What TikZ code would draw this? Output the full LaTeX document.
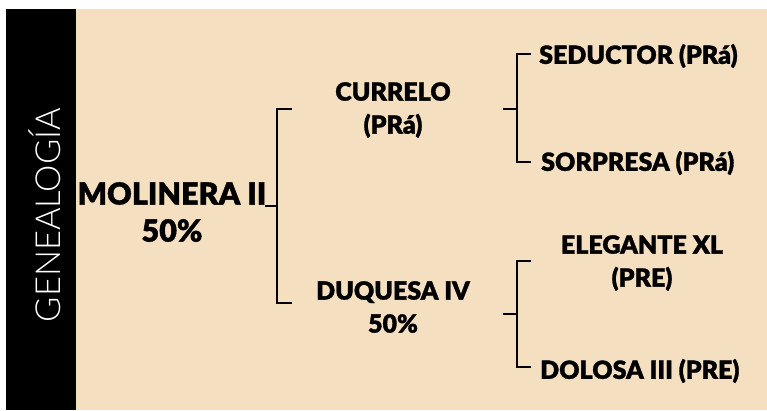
\documentclass[tikz,border=0pt]{standalone}
\usepackage{fontspec}
\newfontfamily\heavy{Lato Black}[FakeBold=1.2]
\newfontfamily\light{Lato Light}
\definecolor{beige}{RGB}{245,223,193}
\tikzset{
  bigtxt/.style={font=\heavy\fontsize{30.5}{37}\selectfont, align=center, inner sep=0pt},
  lbltxt/.style={font=\heavy\fontsize{25}{33}\selectfont, align=center, inner sep=0pt},
  brk/.style={line width=2.8pt, line cap=butt, line join=miter},
}
\begin{document}
\begin{tikzpicture}[x=1pt,y=-1pt]
\useasboundingbox (0,0) rectangle (767,410);
\fill[white] (0,0) rectangle (767,410);
\fill[beige] (6,9) rectangle (767,410);
\fill[black] (6,9) rectangle (76,410);
\node[rotate=90, text=white, font=\light\fontsize{34.5}{34}\selectfont, inner sep=0pt] (title) at (45,215) {GENEALOGÍA};

\node[bigtxt] (mol) at (172,212) {MOLINERA II\\50\%};
\node[lbltxt] (cur) at (393,110) {CURRELO\\(PRá)};
\node[lbltxt] (duq) at (393,307) {DUQUESA IV\\50\%};
\node[lbltxt, anchor=west] (sed) at (539,56) {SEDUCTOR (PRá)};
\node[lbltxt, anchor=west] (sor) at (541,163) {SORPRESA (PRá)};
\node[lbltxt] (ele) at (642,263) {ELEGANTE XL\\(PRE)};
\node[lbltxt, anchor=west] (dol) at (540,371) {DOLOSA III (PRE)};

% main bracket
\coordinate (m0) at (265,206);
\coordinate (m1) at (277,206);
\coordinate (mt) at (277,109);
\coordinate (mb) at (277,303);
\coordinate (mtt) at (292,109);
\coordinate (mbb) at (292,303);
\draw[brk] (m0) -- (m1);
\draw[brk] (mtt) -- (mt) -- (mb) -- (mbb);

% upper bracket
\coordinate (u0) at (503,109);
\coordinate (u1) at (517,109);
\coordinate (ut) at (517,54);
\coordinate (ub) at (517,162);
\coordinate (utt) at (531,54);
\coordinate (ubb) at (531,162);
\draw[brk] (u0) -- (u1);
\draw[brk] (utt) -- (ut) -- (ub) -- (ubb);

% lower bracket
\coordinate (l0) at (503,314);
\coordinate (l1) at (517,314);
\coordinate (lt) at (517,261);
\coordinate (lb) at (517,367);
\coordinate (ltt) at (531,261);
\coordinate (lbb) at (531,367);
\draw[brk] (l0) -- (l1);
\draw[brk] (ltt) -- (lt) -- (lb) -- (lbb);
\end{tikzpicture}
\end{document}
